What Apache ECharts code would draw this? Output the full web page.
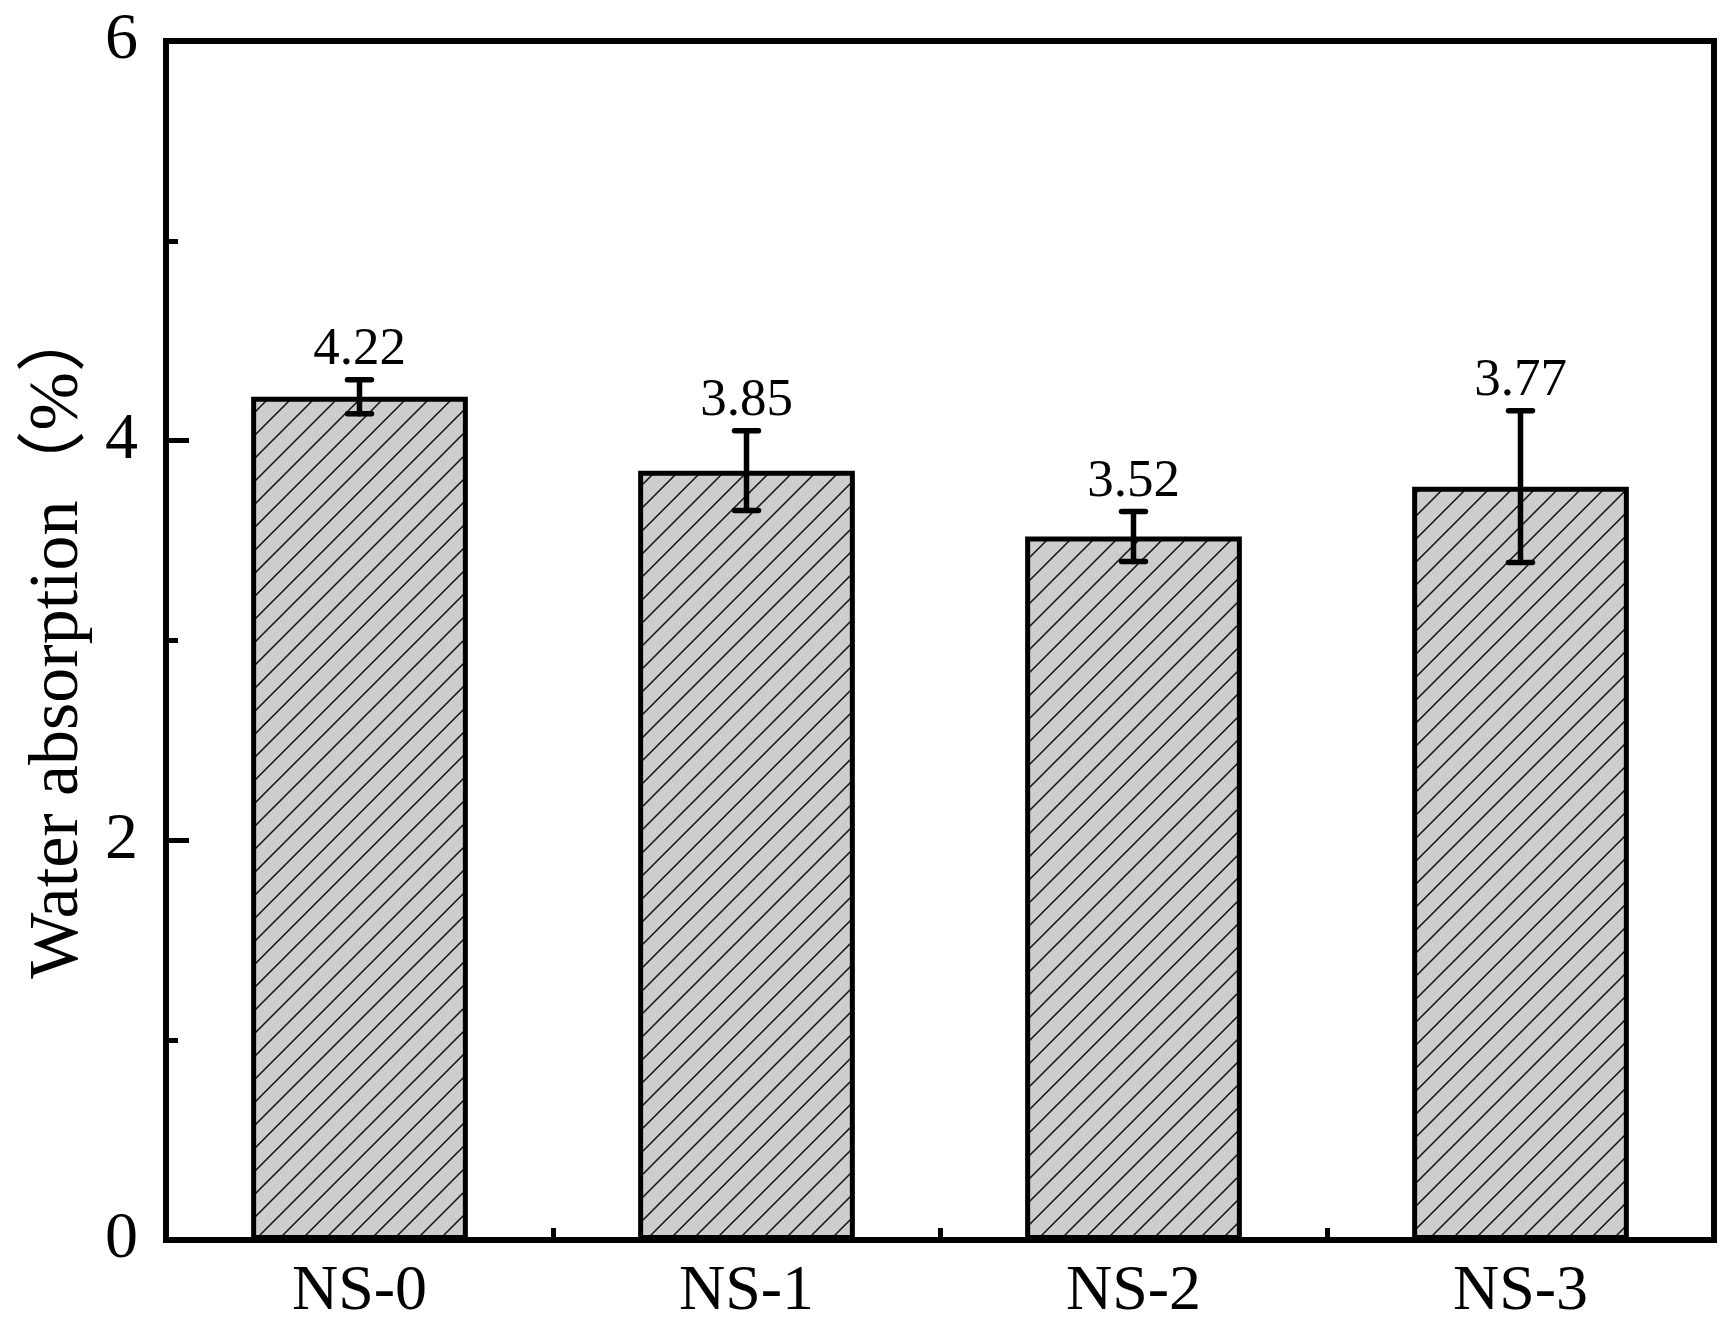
<!DOCTYPE html>
<html>
<head>
<meta charset="utf-8">
<style>
  html, body { margin: 0; padding: 0; background: #fff; }
  #chart { width: 1735px; height: 1340px; }
</style>
<script src="https://cdn.jsdelivr.net/npm/echarts@6/dist/echarts.min.js"></script>
</head>
<body>
<div id="chart"></div>
<script>
const categories = ['NS-0', 'NS-1', 'NS-2', 'NS-3'];
const values = [4.22, 3.85, 3.52, 3.77];
const errors = [0.085, 0.2, 0.125, 0.38];
const valueLabels = ['4.22', '3.85', '3.52', '3.77'];
const yAxisTitle = 'Water absorption（%）';

const FONT = '"Liberation Serif", "Times New Roman", "Noto Sans CJK SC", serif';

// hatch pattern
function makeHatch() {
  const s = 23;
  const c = document.createElement('canvas');
  c.width = s; c.height = s;
  const ctx = c.getContext('2d');
  ctx.fillStyle = '#cdcdcd';
  ctx.fillRect(0, 0, s, s);
  ctx.strokeStyle = '#111';
  ctx.lineWidth = 1.5;
  ctx.beginPath();
  for (const k of [0, 1, 2]) {
    ctx.moveTo(-2, k * s + 2);
    ctx.lineTo(k * s + 2, -2);
  }
  ctx.stroke();
  return c;
}
const hatch = makeHatch();

const chart = echarts.init(document.getElementById('chart'), null, { renderer: 'canvas' });

const errData = categories.map((c, i) => [i, values[i], errors[i]]);

const option = {
  animation: false,
  backgroundColor: '#fff',
  grid: {
    left: 166, right: 21, top: 41, bottom: 100,
    show: true, borderColor: '#000', borderWidth: 6, backgroundColor: 'transparent'
  },
  xAxis: [
    {
      type: 'category',
      data: categories,
      axisLine: { show: true, lineStyle: { color: '#000', width: 6 } },
      axisTick: { show: true, inside: true, alignWithLabel: true, length: 24, lineStyle: { color: '#000', width: 5 } },
      axisLabel: { color: '#000', fontFamily: FONT, fontSize: 64, margin: 20 },
      splitLine: { show: false }
    },
    {
      type: 'category',
      data: categories,
      position: 'bottom',
      axisLine: { show: false },
      axisTick: { show: true, inside: true, alignWithLabel: false, length: 12, lineStyle: { color: '#000', width: 5 } },
      axisLabel: { show: false },
      splitLine: { show: false }
    }
  ],
  yAxis: {
    type: 'value',
    min: 0, max: 6, interval: 2,
    name: yAxisTitle,
    nameLocation: 'middle',
    nameGap: 72,
    nameTextStyle: { color: '#000', fontFamily: FONT, fontSize: 70 },
    axisLine: { show: true, lineStyle: { color: '#000', width: 6 } },
    axisTick: { show: true, inside: true, length: 23, lineStyle: { color: '#000', width: 5 } },
    minorTick: { show: true, splitNumber: 2, length: 12, lineStyle: { color: '#000', width: 5 } },
    axisLabel: { color: '#000', fontFamily: FONT, fontSize: 66, margin: 28 },
    splitLine: { show: false },
    minorSplitLine: { show: false }
  },
  series: [
    {
      type: 'bar',
      data: values,
      barWidth: '56%',
      itemStyle: {
        color: { image: hatch, repeat: 'repeat' },
        borderColor: '#000',
        borderWidth: 5
      },
      z: 2
    },
    {
      type: 'custom',
      data: errData,
      z: 5,
      renderItem: function (params, api) {
        const i = api.value(0);
        const v = api.value(1);
        const e = api.value(2);
        const top = api.coord([i, v + e]);
        const bot = api.coord([i, v - e]);
        const x = top[0];
        const half = 12;
        const ls = { stroke: '#000', lineWidth: 5.5, lineCap: 'round' };
        return {
          type: 'group',
          children: [
            { type: 'line', shape: { x1: x, y1: top[1], x2: x, y2: bot[1] }, style: ls },
            { type: 'line', shape: { x1: x - half, y1: top[1], x2: x + half, y2: top[1] }, style: ls },
            { type: 'line', shape: { x1: x - half, y1: bot[1], x2: x + half, y2: bot[1] }, style: ls },
            {
              type: 'text',
              style: {
                text: valueLabels[params.dataIndex],
                x: x, y: top[1] - 3,
                align: 'center', verticalAlign: 'bottom',
                fontFamily: FONT, fontSize: 53, fill: '#000'
              }
            }
          ]
        };
      }
    }
  ]
};
chart.setOption(option);
</script>
</body>
</html>
